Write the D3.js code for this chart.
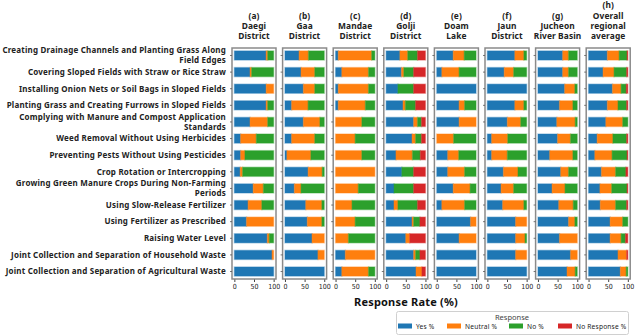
<!DOCTYPE html>
<html>
<head>
<meta charset="utf-8">
<script src="https://cdn.jsdelivr.net/npm/d3@7"></script>
<style>
  body { margin: 0; background: #fff; }
  svg { display: block; }
</style>
</head>
<body>
<script>
(function (d3) {
  "use strict";

  /***** Data *****/
  var practices = [
    ["Creating Drainage Channels and Planting Grass Along", "Field Edges"],
    ["Covering Sloped Fields with Straw or Rice Straw"],
    ["Installing Onion Nets or Soil Bags in Sloped Fields"],
    ["Planting Grass and Creating Furrows in Sloped Fields"],
    ["Complying with Manure and Compost Application", "Standards"],
    ["Weed Removal Without Using Herbicides"],
    ["Preventing Pests Without Using Pesticides"],
    ["Crop Rotation or Intercropping"],
    ["Growing Green Manure Crops During Non-Farming", "Periods"],
    ["Using Slow-Release Fertilizer"],
    ["Using Fertilizer as Prescribed"],
    ["Raising Water Level"],
    ["Joint Collection and Separation of Household Waste"],
    ["Joint Collection and Separation of Agricultural Waste"]
  ];

  var regions = [
    ["(a)", "Daegi", "District"],
    ["(b)", "Gaa", "District"],
    ["(c)", "Mandae", "District"],
    ["(d)", "Golji", "District"],
    ["(e)", "Doam", "Lake"],
    ["(f)", "Jaun", "District"],
    ["(g)", "Jucheon", "River Basin"],
    ["(h)", "Overall", "regional", "average"]
  ];

  var responses = ["Yes %", "Neutral %", "No %", "No Response %"];
  var colors = ["#1f77b4", "#ff7f0e", "#2ca02c", "#d62728"];

  // one row of 14 values per region (a..h)
  var yesPct = [
    [81, 40, 81, 81, 40, 16, 16, 15, 48, 35, 31, 84, 96, 100],
    [36, 41, 47, 17, 47, 17, 5, 59, 24, 53, 57, 69, 84, 100],
    [7, 16, 7, 7, 0, 0, 0, 0, 0, 0, 0, 0, 25, 16],
    [35, 39, 30, 43, 70, 66, 25, 40, 20, 20, 66, 50, 70, 76],
    [42, 13, 100, 57, 57, 0, 28, 28, 42, 13, 86, 57, 100, 100],
    [70, 43, 100, 70, 51, 11, 11, 41, 35, 39, 72, 72, 72, 100],
    [63, 63, 68, 55, 48, 50, 30, 58, 36, 53, 78, 55, 83, 74],
    [48, 37, 61, 48, 44, 22, 16, 33, 29, 30, 55, 55, 75, 81]
  ];
  var neutralPct = [
    [4, 4, 19, 4, 45, 40, 11, 6, 26, 35, 69, 5, 4, 0],
    [24, 35, 29, 42, 42, 59, 61, 36, 17, 41, 37, 31, 16, 0],
    [85, 68, 77, 69, 67, 50, 67, 100, 58, 42, 50, 33, 75, 68],
    [20, 6, 0, 6, 10, 9, 42, 0, 0, 10, 4, 10, 5, 15],
    [28, 44, 0, 14, 43, 43, 28, 43, 43, 58, 14, 43, 0, 0],
    [23, 24, 0, 23, 34, 41, 40, 37, 32, 54, 28, 24, 28, 0],
    [15, 15, 26, 34, 47, 33, 59, 20, 33, 37, 16, 45, 17, 21],
    [30, 28, 22, 27, 43, 40, 44, 36, 30, 39, 32, 28, 22, 15]
  ];
  var noPct = [
    [15, 56, 0, 15, 15, 44, 73, 79, 26, 30, 0, 11, 0, 0],
    [40, 24, 24, 41, 11, 24, 34, 5, 59, 6, 6, 0, 0, 0],
    [8, 16, 16, 24, 33, 50, 33, 0, 42, 58, 50, 67, 0, 16],
    [25, 25, 40, 26, 10, 15, 20, 30, 50, 50, 16, 0, 11, 0],
    [30, 43, 0, 29, 0, 57, 44, 29, 15, 29, 0, 0, 0, 0],
    [7, 33, 0, 7, 15, 48, 49, 22, 33, 7, 0, 4, 0, 0],
    [22, 22, 6, 11, 5, 17, 11, 22, 31, 10, 6, 0, 0, 5],
    [20, 32, 13, 22, 13, 35, 38, 26, 39, 28, 13, 11, 0, 4]
  ];
  var noResponsePct = [
    [0, 0, 0, 0, 0, 0, 0, 0, 0, 0, 0, 0, 0, 0],
    [0, 0, 0, 0, 0, 0, 0, 0, 0, 0, 0, 0, 0, 0],
    [0, 0, 0, 0, 0, 0, 0, 0, 0, 0, 0, 0, 0, 0],
    [20, 30, 30, 25, 10, 10, 13, 30, 30, 20, 14, 40, 14, 9],
    [0, 0, 0, 0, 0, 0, 0, 0, 0, 0, 0, 0, 0, 0],
    [0, 0, 0, 0, 0, 0, 0, 0, 0, 0, 0, 0, 0, 0],
    [0, 0, 0, 0, 0, 0, 0, 0, 0, 0, 0, 0, 0, 0],
    [2, 3, 4, 3, 0, 3, 2, 5, 2, 3, 0, 6, 3, 0]
  ];
  var xTicks = [0, 50, 100];

  /***** Configuration *****/
  var width = 635, height = 336;
  var panelLeft = 232, panelStep = 50.6, panelWidth = 44;
  var panelTop = 48, panelBottom = 279;
  var boldFont = "'Noto Sans', 'DejaVu Sans', sans-serif";
  var narrowFont = "'Liberation Sans Narrow', 'DejaVu Sans Condensed', sans-serif";

  var svg = d3.select("body").append("svg")
      .attr("width", width)
      .attr("height", height);

  var yScale = d3.scaleBand()
      .domain(d3.range(practices.length))
      .range([panelTop, panelBottom])
      .paddingInner(0.45)
      .paddingOuter(0.175);

  /***** Category labels *****/
  var labelGroup = svg.append("g")
      .attr("font-family", boldFont)
      .attr("font-weight", "bold")
      .attr("font-size", 8)
      .attr("letter-spacing", 0.2)
      .attr("fill", "#222")
      .attr("text-anchor", "end");

  practices.forEach(function (lines, i) {
    var cy = yScale(i) + yScale.bandwidth() / 2;
    var t = labelGroup.append("text").attr("x", 226);
    lines.forEach(function (line, j) {
      t.append("tspan")
          .attr("x", 226)
          .attr("y", cy + (j - (lines.length - 1) / 2) * 10)
          .attr("dy", "0.35em")
          .text(line);
    });
  });

  /***** Panels *****/
  var series = [yesPct, neutralPct, noPct, noResponsePct];

  regions.forEach(function (title, r) {
    var x0 = panelLeft + r * panelStep;
    var xScale = d3.scaleLinear().domain([-6, 106]).range([x0, x0 + panelWidth]);

    var g = svg.append("g");

    // stacked rows
    practices.forEach(function (p, i) {
      var start = 0;
      series.forEach(function (s, k) {
        var v = s[r][i];
        if (v > 0) {
          g.append("rect")
              .attr("x", xScale(start))
              .attr("y", yScale(i))
              .attr("width", xScale(start + v) - xScale(start))
              .attr("height", yScale.bandwidth())
              .attr("fill", colors[k])
              .attr("stroke", colors[k])
              .attr("stroke-opacity", 0.35)
              .attr("stroke-width", 1.4);
        }
        start += v;
      });
    });

    // frame
    g.append("rect")
        .attr("x", x0)
        .attr("y", panelTop)
        .attr("width", panelWidth)
        .attr("height", panelBottom - panelTop)
        .attr("fill", "none")
        .attr("stroke", "#8a8a8a")
        .attr("stroke-width", 1.5);

    // y ticks
    practices.forEach(function (p, i) {
      var cy = yScale(i) + yScale.bandwidth() / 2;
      g.append("line")
          .attr("x1", x0 - 2).attr("x2", x0)
          .attr("y1", cy).attr("y2", cy)
          .attr("stroke", "#555").attr("stroke-width", 0.8);
    });

    // x axis
    var xAxis = d3.axisBottom(xScale).tickValues(xTicks).tickSize(2.5).tickPadding(2);
    var ax = svg.append("g")
        .attr("transform", "translate(0," + (panelBottom + 0.5) + ")")
        .call(xAxis);
    ax.select(".domain").remove();
    ax.selectAll("line").attr("stroke", "#444");
    ax.selectAll("text")
        .attr("font-family", narrowFont)
        .attr("font-size", 7)
        .attr("fill", "#222");

    // title
    var tt = svg.append("text")
        .attr("text-anchor", "middle")
        .attr("font-family", boldFont)
        .attr("font-weight", "bold")
        .attr("font-size", 8.4)
        .attr("letter-spacing", 0.1)
        .attr("fill", "#222");
    title.forEach(function (line, j) {
      tt.append("tspan")
          .attr("x", x0 + panelWidth / 2)
          .attr("y", 39 - (title.length - 1 - j) * 10.2)
          .text(line);
    });
  });

  /***** Axis label *****/
  svg.append("text")
      .attr("x", 406)
      .attr("y", 306)
      .attr("text-anchor", "middle")
      .attr("font-family", boldFont)
      .attr("font-weight", "bold")
      .attr("font-size", 11)
      .attr("letter-spacing", 0.2)
      .attr("fill", "#111")
      .text("Response Rate (%)");

  /***** Legend *****/
  var legend = svg.append("g");
  legend.append("rect")
      .attr("x", 396.5).attr("y", 311.5)
      .attr("width", 232).attr("height", 23)
      .attr("rx", 2)
      .attr("fill", "#fff")
      .attr("stroke", "#d0d0d0");
  legend.append("text")
      .attr("x", 512).attr("y", 319.5)
      .attr("text-anchor", "middle")
      .attr("font-family", boldFont)
      .attr("font-size", 7.5)
      .attr("fill", "#444")
      .text("Response");

  var legendX = [398, 447, 509, 558];
  responses.forEach(function (name, k) {
    legend.append("rect")
        .attr("x", legendX[k]).attr("y", 323.5)
        .attr("width", 14).attr("height", 5)
        .attr("fill", colors[k]);
    legend.append("text")
        .attr("x", legendX[k] + 18).attr("y", 328.5)
        .attr("font-family", boldFont)
        .attr("font-size", 6.6)
        .attr("letter-spacing", 0.2)
        .attr("fill", "#222")
        .text(name);
  });

})(d3);
</script>
</body>
</html>
